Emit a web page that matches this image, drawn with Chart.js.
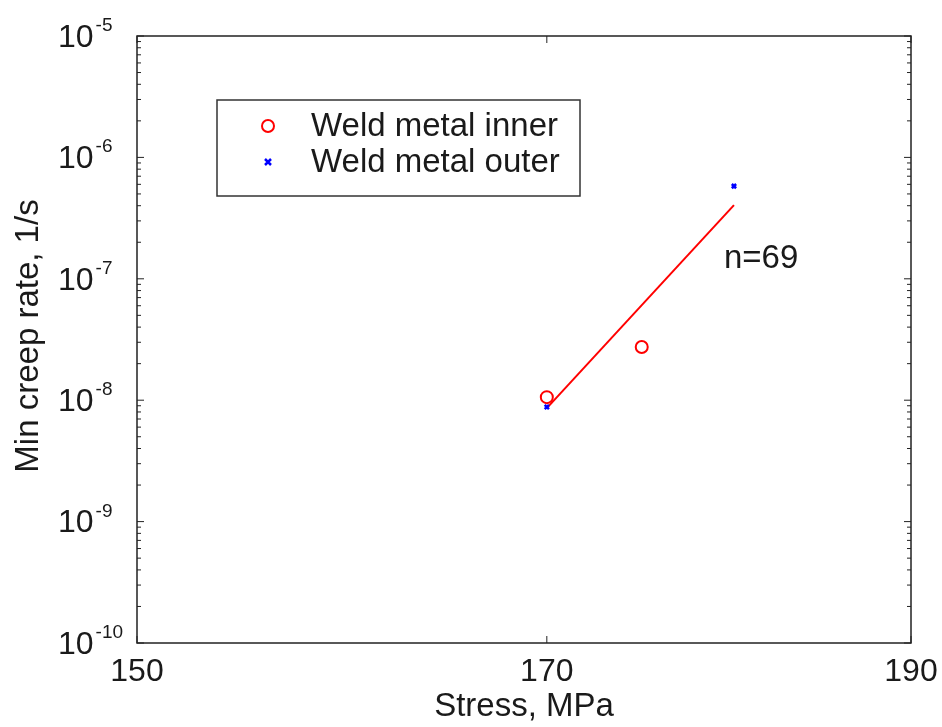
<!DOCTYPE html>
<html>
<head>
  <meta charset="utf-8">
  <title>Min creep rate vs stress</title>
  <script src="https://cdn.jsdelivr.net/npm/chart.js"></script>
  <style>
    body { margin: 0; background: #fff; }
    #wrap { width: 942px; height: 727px; }
  </style>
</head>
<body>
  <div id="wrap"><canvas id="creepChart" width="942" height="727"></canvas></div>
  <script>
    // values
    const stressTicks = [150, 170, 190];
    const rateExponents = [-10, -9, -8, -7, -6, -5];
    const innerStress = [170, 175];
    const innerRate = [1.06e-8, 2.74e-8];
    const outerStress = [170, 180];
    const outerRate = [8.8e-9, 5.8e-7];
    const fitStress = [170, 180];
    const fitRate = [8.6e-9, 4.05e-7];
    const fitLabel = 'n=69';

    const toPoints = (xs, ys) => xs.map((x, i) => ({ x, y: ys[i] }));

    const FONT = '"Liberation Sans", Arial, sans-serif';
    const INK = '#1a1a1a';

    const framePlugin = {
      id: 'frame',
      afterDraw(chart) {
        const { ctx, chartArea: a, scales } = chart;
        const xs = scales.x, ys = scales.y;
        ctx.save();

        // axes box
        ctx.strokeStyle = '#222';
        ctx.lineWidth = 1.5;
        ctx.strokeRect(a.left, a.top, a.right - a.left, a.bottom - a.top);

        // y ticks (inward), major and minor
        ctx.lineWidth = 1;
        rateExponents.forEach((e, i) => {
          const y = ys.getPixelForValue(Math.pow(10, e));
          ctx.beginPath();
          ctx.moveTo(a.left, y); ctx.lineTo(a.left + 7, y);
          ctx.moveTo(a.right, y); ctx.lineTo(a.right - 7, y);
          ctx.stroke();
          if (i < rateExponents.length - 1) {
            for (let m = 2; m <= 9; m++) {
              const ym = ys.getPixelForValue(m * Math.pow(10, e));
              ctx.beginPath();
              ctx.moveTo(a.left, ym); ctx.lineTo(a.left + 4, ym);
              ctx.moveTo(a.right, ym); ctx.lineTo(a.right - 4, ym);
              ctx.stroke();
            }
          }
        });
        // x ticks
        stressTicks.forEach(v => {
          const x = xs.getPixelForValue(v);
          ctx.beginPath();
          ctx.moveTo(x, a.bottom); ctx.lineTo(x, a.bottom - 7);
          ctx.moveTo(x, a.top); ctx.lineTo(x, a.top + 7);
          ctx.stroke();
        });

        // tick labels
        ctx.fillStyle = INK;
        ctx.font = '32px ' + FONT;
        ctx.textAlign = 'center';
        ctx.textBaseline = 'top';
        stressTicks.forEach(v => {
          ctx.fillText(String(v), xs.getPixelForValue(v), a.bottom + 13);
        });
        rateExponents.forEach(e => {
          const y = ys.getPixelForValue(Math.pow(10, e));
          ctx.font = '32px ' + FONT;
          ctx.textAlign = 'left';
          ctx.textBaseline = 'middle';
          ctx.fillText('10', 58, y + 2);
          const w = ctx.measureText('10').width;
          ctx.font = '19px ' + FONT;
          ctx.textBaseline = 'alphabetic';
          ctx.fillText(String(e), 58 + w + 2, y - 5);
        });

        // axis titles
        ctx.font = '33px ' + FONT;
        ctx.textAlign = 'center';
        ctx.textBaseline = 'middle';
        ctx.fillText('Stress, MPa', (a.left + a.right) / 2, 707);
        ctx.save();
        ctx.translate(29, 336);
        ctx.rotate(-Math.PI / 2);
        ctx.fillText('Min creep rate, 1/s', 0, 0);
        ctx.restore();

        // fit annotation
        ctx.textAlign = 'left';
        ctx.fillText(fitLabel, 724, 259);

        // legend box
        const lx = 217, ly = 100, lw = 363, lh = 96;
        ctx.fillStyle = '#fff';
        ctx.fillRect(lx, ly, lw, lh);
        ctx.strokeStyle = '#333';
        ctx.lineWidth = 1.5;
        ctx.strokeRect(lx, ly, lw, lh);
        const rows = [chart.data.datasets[0], chart.data.datasets[1]];
        rows.forEach((ds, i) => {
          const ry = ly + 26 + i * 36;
          ctx.strokeStyle = ds.borderColor;
          ctx.lineWidth = ds.borderWidth;
          ctx.beginPath();
          if (ds.pointStyle === 'circle') {
            ctx.arc(268, ry, ds.pointRadius, 0, Math.PI * 2);
          } else {
            const r = ds.pointRadius;
            ctx.moveTo(268 - r, ry - r); ctx.lineTo(268 + r, ry + r);
            ctx.moveTo(268 + r, ry - r); ctx.lineTo(268 - r, ry + r);
          }
          ctx.stroke();
          ctx.fillStyle = INK;
          ctx.font = '33px ' + FONT;
          ctx.textAlign = 'left';
          ctx.textBaseline = 'middle';
          ctx.fillText(ds.label, 311, ry + 1);
        });

        ctx.restore();
      }
    };

    new Chart(document.getElementById('creepChart'), {
      type: 'scatter',
      data: {
        datasets: [
          {
            label: 'Weld metal inner',
            data: toPoints(innerStress, innerRate),
            pointStyle: 'circle',
            pointRadius: 6,
            borderWidth: 2,
            borderColor: '#ff0000',
            backgroundColor: 'rgba(0,0,0,0)'
          },
          {
            label: 'Weld metal outer',
            data: toPoints(outerStress, outerRate),
            pointStyle: 'crossRot',
            pointRadius: 3,
            borderWidth: 2.5,
            borderColor: '#0000ff',
            backgroundColor: '#0000ff'
          },
          {
            label: 'fit',
            type: 'line',
            data: toPoints(fitStress, fitRate),
            showLine: true,
            pointRadius: 0,
            borderWidth: 2,
            borderColor: '#ff0000',
            fill: false
          }
        ]
      },
      options: {
        responsive: false,
        animation: false,
        layout: { padding: { left: 137, right: 31, top: 36, bottom: 84 } },
        plugins: { legend: { display: false }, tooltip: { enabled: false } },
        scales: {
          x: { type: 'logarithmic', min: 150, max: 190, display: false },
          y: { type: 'logarithmic', min: 1e-10, max: 1e-5, display: false }
        }
      },
      plugins: [framePlugin]
    });
  </script>
</body>
</html>
